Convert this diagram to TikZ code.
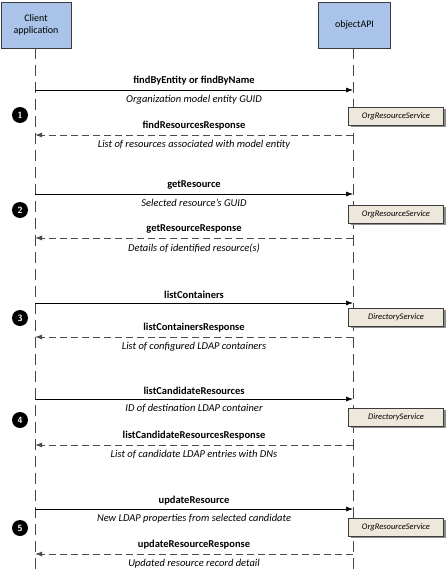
\documentclass[tikz,border=0pt]{standalone}
\usepackage{fontspec}
\setmainfont{Carlito}
\usetikzlibrary{arrows.meta,shadows}
\definecolor{hdrfill}{RGB}{169,196,232}
\definecolor{hdrline}{RGB}{60,60,60}
\definecolor{svcfill}{RGB}{238,231,219}
\definecolor{lifegray}{RGB}{70,70,70}
\tikzset{
  hdr/.style={draw=hdrline,fill=hdrfill,line width=0.8pt,minimum width=70pt,minimum height=46pt,align=center,font=\fontsize{10}{11.5}\selectfont,inner sep=0pt},
  svc/.style={draw=hdrline,fill=svcfill,line width=0.6pt,minimum width=95pt,minimum height=18pt,font=\fontsize{8.5}{9}\itshape,inner sep=0pt,
    drop shadow={shadow xshift=2pt,shadow yshift=-2pt,fill=black!45,opacity=1}},
  life/.style={draw=lifegray,line width=0.8pt,dash pattern=on 11pt off 6pt},
  call/.style={draw=black,line width=0.7pt,-{Latex[length=7pt,width=5pt]}},
  resp/.style={draw=black!70,line width=0.9pt,dash pattern=on 7pt off 4pt,-{Latex[length=7pt,width=5pt]}},
  mlab/.style={font=\fontsize{10.5}{11}\bfseries\selectfont,inner sep=0pt},
  ilab/.style={font=\fontsize{10.5}{11}\itshape\selectfont,inner sep=0pt},
  marker/.style={circle,fill=black,text=white,minimum size=16pt,inner sep=0pt,font=\sffamily\fontsize{9}{10}\bfseries\selectfont},
}
\begin{document}
\begin{tikzpicture}[x=1pt,y=-1pt]
\useasboundingbox (0,0) rectangle (445,580);
% headers
\node[hdr] (client) at (36,25) {Client\\application};
\node[hdr,minimum width=72pt] (api) at (354.5,25) {objectAPI};
\coordinate (cend) at (35,575);
\coordinate (aend) at (353,575);
\draw[life] (35,48) -- (cend);
\draw[life] (353,48) -- (aend);
% step 1
\coordinate (c1a) at (35,90); \coordinate (a1a) at (353,90);
\coordinate (c1b) at (35,135); \coordinate (a1b) at (353,135);
\draw[call] (c1a) -- node[mlab,above=4pt]{findByEntity or findByName} node[ilab,below=5pt]{Organization model entity GUID} (a1a);
\draw[resp] (a1b) -- node[mlab,above=4pt]{findResourcesResponse} node[ilab,below=5pt]{List of resources associated with model entity} (c1b);
\node[marker] (m1) at (20,115) {1};
\node[svc] (s1) at (396,116) {OrgResourceService};
% step 2
\coordinate (c2a) at (35,194); \coordinate (a2a) at (353,194);
\coordinate (c2b) at (35,238); \coordinate (a2b) at (353,238);
\draw[call] (c2a) -- node[mlab,above=4pt]{getResource} node[ilab,below=5pt]{Selected resource’s GUID} (a2a);
\draw[resp] (a2b) -- node[mlab,above=4pt]{getResourceResponse} node[ilab,below=5pt]{Details of identified resource(s)} (c2b);
\node[marker] (m2) at (20,210) {2};
\node[svc] (s2) at (396,214) {OrgResourceService};
% step 3
\coordinate (c3a) at (35,303); \coordinate (a3a) at (353,303);
\coordinate (c3b) at (35,337); \coordinate (a3b) at (353,337);
\draw[call] (c3a) -- node[mlab,above=4pt]{listContainers} (a3a);
\draw[resp] (a3b) -- node[mlab,above=4pt]{listContainersResponse} node[ilab,below=5pt]{List of configured LDAP containers} (c3b);
\node[marker] (m3) at (20,318) {3};
\node[svc] (s3) at (396,317) {DirectoryService};
% step 4
\coordinate (c4a) at (35,399); \coordinate (a4a) at (353,399);
\coordinate (c4b) at (35,445); \coordinate (a4b) at (353,445);
\draw[call] (c4a) -- node[mlab,above=4pt]{listCandidateResources} node[ilab,below=5pt]{ID of destination LDAP container} (a4a);
\draw[resp] (a4b) -- node[mlab,above=4pt]{listCandidateResourcesResponse} node[ilab,below=5pt]{List of candidate LDAP entries with DNs} (c4b);
\node[marker] (m4) at (20,420) {4};
\node[svc] (s4) at (396,417) {DirectoryService};
% step 5
\coordinate (c5a) at (35,509); \coordinate (a5a) at (353,509);
\coordinate (c5b) at (35,554); \coordinate (a5b) at (353,554);
\draw[call] (c5a) -- node[mlab,above=4pt]{updateResource} node[ilab,below=5pt]{New LDAP properties from selected candidate} (a5a);
\draw[resp] (a5b) -- node[mlab,above=4pt]{updateResourceResponse} node[ilab,below=5pt]{Updated resource record detail} (c5b);
\node[marker] (m5) at (20,528) {5};
\node[svc] (s5) at (396,527) {OrgResourceService};
\end{tikzpicture}
\end{document}
